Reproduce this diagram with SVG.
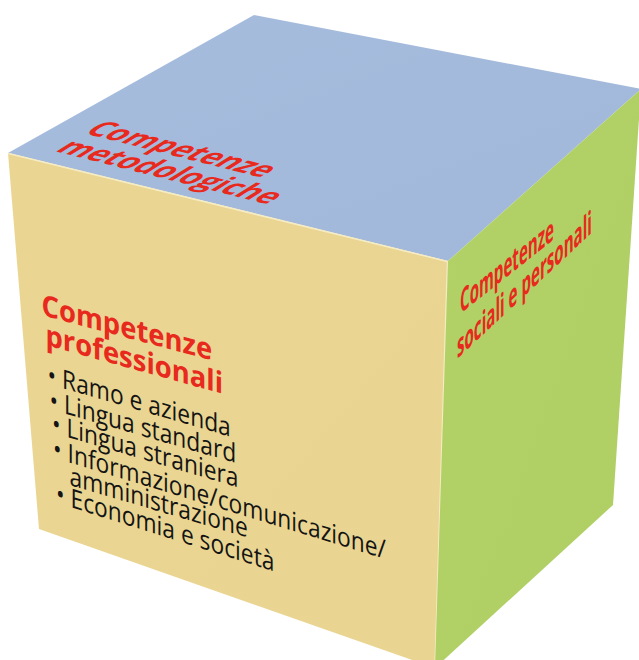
<svg xmlns="http://www.w3.org/2000/svg" width="639" height="660" viewBox="0 0 639 660">
  <defs>
    <linearGradient id="gTop" x1="0" y1="0" x2="1" y2="1">
      <stop offset="0" stop-color="#A5BCDD"/>
      <stop offset="1" stop-color="#A2B8DA"/>
    </linearGradient>
    <linearGradient id="gFront" x1="0" y1="0" x2="1" y2="1">
      <stop offset="0" stop-color="#EAD692"/>
      <stop offset="1" stop-color="#E9D491"/>
    </linearGradient>
    <linearGradient id="gSide" x1="0" y1="0" x2="1" y2="1">
      <stop offset="0" stop-color="#B2D268"/>
      <stop offset="1" stop-color="#AFCF64"/>
    </linearGradient>
  </defs>
  <style>
    .head { font-family: "Open Sans", "Noto Sans", sans-serif; font-weight: 700; fill: #E8291D; }
    .item { font-family: "Open Sans", "Noto Sans", sans-serif; font-weight: 400; fill: #141414; font-size: 24px; }
    .edge { fill: none; stroke: #F6ECC4; stroke-width: 1.5; stroke-linecap: round; }
  </style>

  <rect width="639" height="660" fill="#FFFFFF"/>

  <!-- top face -->
  <g id="face-top">
    <polygon points="254,15 641,89 448,261 8,153" fill="url(#gTop)"/>
    <text class="head" font-size="24" transform="matrix(1.2 0.3 -1.2 0.75 83 133)">
      <tspan x="0" y="0">Competenze</tspan>
      <tspan x="0" y="24">metodologiche</tspan>
    </text>
  </g>

  <!-- front face -->
  <g id="face-front">
    <polygon points="8,153 448,261 435,668 39,529" fill="url(#gFront)"/>
    <polyline class="edge" points="8.5,153.5 447.5,261.5 435,668"/>
    <text class="head" font-size="28" transform="matrix(0.98 0.26 0 1.05 41.5 315)">Competenze</text>
    <text class="head" font-size="28" transform="matrix(0.98 0.27 0 1.05 45.5 345)">professionali</text>
    <text class="item" transform="matrix(0.95 0.275 0 1.1 47.6 383.8)">• Ramo e azienda</text>
    <text class="item" transform="matrix(0.95 0.275 0 1.1 49.6 409.1)">• Lingua standard</text>
    <text class="item" transform="matrix(0.95 0.28 0 1.1 51.9 432.5)">• Lingua straniera</text>
    <text class="item" transform="matrix(0.95 0.29 0 1.1 53.1 457.5)">• Informazione/comunicazione/</text>
    <text class="item" transform="matrix(0.95 0.28 0 1.1 69.6 485)">amministrazione</text>
    <text class="item" transform="matrix(0.95 0.3 0 1.1 56 502.5)">• Economia e società</text>
  </g>

  <!-- right face -->
  <g id="face-side">
    <polygon points="448,261 641,89 613,505 435,668" fill="url(#gSide)"/>
    <text class="head" font-size="24" transform="matrix(0.63 -0.5 0 1.35 460 314)">Competenze</text>
    <text class="head" font-size="24" transform="matrix(0.63 -0.59 0 1.35 457 359)">sociali e personali</text>
  </g>
</svg>
